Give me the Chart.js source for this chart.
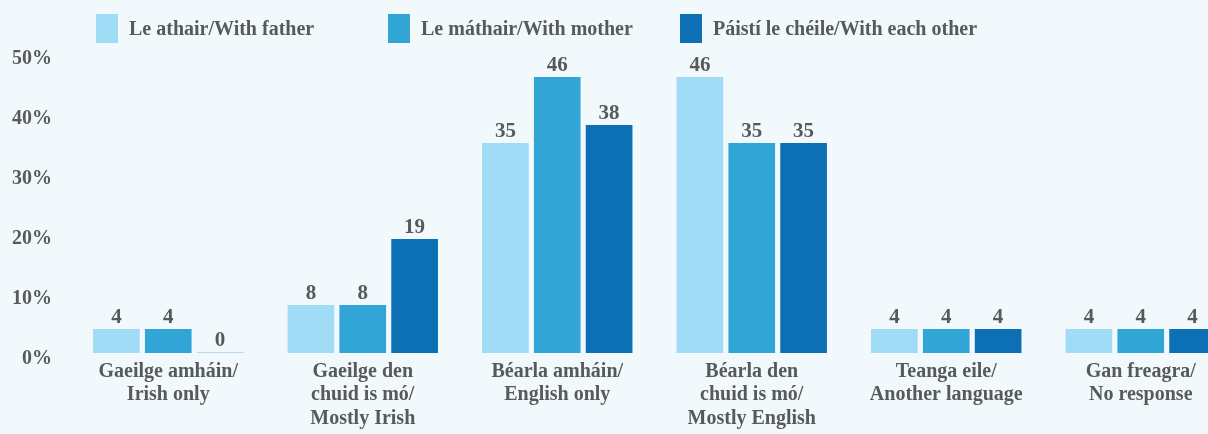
<!DOCTYPE html>
<html>
<head>
<meta charset="utf-8">
<script src="https://cdn.jsdelivr.net/npm/chart.js@4/dist/chart.umd.min.js"></script>
<style>
  html, body { margin: 0; padding: 0; background: #f2f9fd; }
  #wrap { position: relative; width: 1208px; height: 434px; overflow: hidden; }
  #legend { position: absolute; left: 96px; top: 14px; display: flex; }
  .lg-item { width: 292px; display: flex; align-items: center; height: 29px; }
  .lg-box { width: 22px; height: 29px; margin-right: 11px; flex: none; }
  .lg-text { font: bold 20px "Liberation Serif", serif; color: #58595b; white-space: nowrap; }
  #box { position: absolute; left: 0; top: 0; width: 1240px; height: 434px; }
</style>
</head>
<body>
<div id="wrap">
  <div id="box"><canvas id="chart"></canvas></div>
  <div id="legend"></div>
</div>
<script>
// ─── Data ─────────────────────────────────────────────────────────────────────
const categories = [
  ['Gaeilge amháin/', 'Irish only'],
  ['Gaeilge den', 'chuid is mó/', 'Mostly Irish'],
  ['Béarla amháin/', 'English only'],
  ['Béarla den', 'chuid is mó/', 'Mostly English'],
  ['Teanga eile/', 'Another language'],
  ['Gan freagra/', 'No response'],
];
const seriesNames = ['Le athair/With father', 'Le máthair/With mother', 'Páistí le chéile/With each other'];
const withFather  = [4, 8, 35, 46, 4, 4];
const withMother  = [4, 8, 46, 35, 4, 4];
const eachOther   = [0, 19, 38, 35, 4, 4];
const yTicks      = [0, 10, 20, 30, 40, 50];

const colors  = ['#a1dcf7', '#31a5d6', '#0d6fb4'];
const TEXT    = '#58595b';
const FONT    = '"Liberation Serif", serif';

// ─── Value labels above bars ──────────────────────────────────────────────────
const valueLabels = {
  id: 'valueLabels',
  afterDatasetsDraw(chart) {
    const { ctx } = chart;
    ctx.save();
    ctx.font = `bold 21px ${FONT}`;
    ctx.fillStyle = TEXT;
    ctx.textAlign = 'center';
    ctx.textBaseline = 'alphabetic';
    chart.data.datasets.forEach((ds, i) => {
      chart.getDatasetMeta(i).data.forEach((bar, j) => {
        ctx.fillText(String(ds.data[j]), bar.x, bar.y - 6);
      });
    });
    ctx.restore();
  }
};

const chart = new Chart(document.getElementById('chart'), {
  type: 'bar',
  data: {
    labels: categories,
    datasets: [
      { label: seriesNames[0], data: withFather, backgroundColor: colors[0] },
      { label: seriesNames[1], data: withMother, backgroundColor: colors[1] },
      { label: seriesNames[2], data: eachOther,
        backgroundColor: eachOther.map(v => v === 0 ? '#b9d9ee' : colors[2]),
        minBarLength: 1 },
    ]
  },
  options: {
    responsive: true, maintainAspectRatio: false, animation: false,
    categoryPercentage: 0.8, barPercentage: 0.9,
    layout: { padding: { top: 53, right: 2, bottom: 2, left: 0 } },
    plugins: { legend: { display: false }, tooltip: { enabled: false } },
    scales: {
      x: {
        afterFit: s => { s.height = 79; },
        grid: { display: false, drawTicks: false },
        border: { display: false },
        ticks: {
          color: TEXT, font: { family: FONT, size: 20, weight: 'bold', lineHeight: 1.17 },
          padding: 7, maxRotation: 0, autoSkip: false
        }
      },
      y: {
        min: 0, max: 50,
        afterFit: s => { s.width = 71; },
        afterBuildTicks: s => { s.ticks = yTicks.map(v => ({ value: v })); },
        grid: { display: false, drawTicks: false },
        border: { display: false },
        ticks: {
          color: TEXT, font: { family: FONT, size: 20, weight: 'bold' },
          padding: 19, labelOffset: 6,
          callback: v => v + '%'
        }
      }
    }
  },
  plugins: [valueLabels]
});

// ─── Legend ───────────────────────────────────────────────────────────────────
document.getElementById('legend').innerHTML = chart.data.datasets.map((ds, i) => `
  <div class="lg-item">
    <span class="lg-box" style="background:${colors[i]}"></span>
    <span class="lg-text">${ds.label}</span>
  </div>`).join('');
</script>
</body>
</html>
